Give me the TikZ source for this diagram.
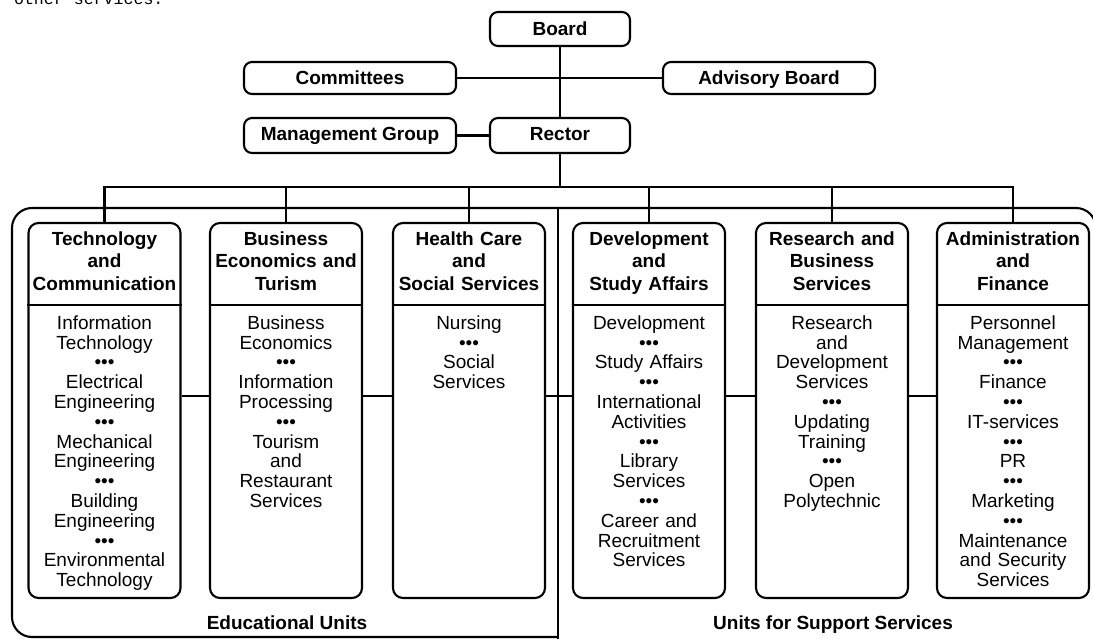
\documentclass[tikz,border=0pt]{standalone}
\usepackage{fontspec}
\setmainfont{Liberation Sans}
\newfontfamily\prevfont{Liberation Mono}
\newcommand{\bul}{•••}
\tikzset{
  box/.style={draw, rounded corners=8pt, inner sep=0pt, font=\bfseries\fontsize{19}{22}\selectfont},
  unitbox/.style={draw, rounded corners=10pt, minimum width=152pt, minimum height=375pt, inner sep=0pt},
  unittitle/.style={anchor=north, inner sep=0pt, align=center, text width=152pt, font=\bfseries\fontsize{19}{22.5}\selectfont},
  unitbody/.style={anchor=north, inner sep=0pt, align=center, text width=152pt, font=\fontsize{19}{19.8}\selectfont},
  grouplabel/.style={anchor=base, inner sep=0pt, font=\bfseries\fontsize{19}{22}\selectfont}
}
\begin{document}
\begin{tikzpicture}[x=1pt, y=-1pt, line width=2.1pt]
\useasboundingbox (0,0) rectangle (1093,639);
\node[anchor=base west, inner sep=0pt, font=\prevfont\fontsize{16.6}{18}\selectfont] (prev) at (13,4.5) {other services.};
% top of the chart
\node[box, minimum width=140pt, minimum height=34pt] (board) at (560,29) {Board};
\node[box, minimum width=212pt, minimum height=32pt, text depth=0pt] (committees) at (350,78) {Committees};
\node[box, minimum width=212pt, minimum height=32pt, text depth=0pt] (advisory) at (769,78) {Advisory Board};
\node[box, minimum width=212pt, minimum height=35pt] (mgmt) at (350,135.5) {Management Group};
\node[box, minimum width=140pt, minimum height=35pt, text depth=4pt] (rector) at (560,135.5) {Rector};
\draw (board) -- (rector);
\draw (committees) -- (advisory);
\draw (mgmt) -- (rector);
\coordinate (bus) at (560,187);
\coordinate (divy) at (0,305);
\coordinate (linky) at (0,396);
\draw (rector) -- (bus);
% frames
\draw[rounded corners=20pt] (558,637) -- (12,637) -- (12,208) -- (1096,208) -- (1096,660);
\draw (558,208) -- (558,660);
\node[grouplabel] (edu) at (287,629) {Educational Units};
\node[grouplabel] (sup) at (833,629) {Units for Support Services};
% units
\node[unitbox] (tech) at (104.5,410.5) {};
\node[unitbox] (biz) at (286,410.5) {};
\node[unitbox] (health) at (469,410.5) {};
\node[unitbox] (dev) at (649,410.5) {};
\node[unitbox] (res) at (832,410.5) {};
\node[unitbox] (adm) at (1013,410.5) {};
\node[unittitle] (techT) at (104.5,230.4) {Technology\\and\\Communication};
\node[unittitle] (bizT) at (286,230.4) {Business\\Economics and\\Turism};
\node[unittitle] (healthT) at (469,230.4) {Health Care\\and\\Social Services};
\node[unittitle] (devT) at (649,230.4) {Development\\and\\Study Affairs};
\node[unittitle] (resT) at (832,230.4) {Research and\\Business\\Services};
\node[unittitle] (admT) at (1013,230.4) {Administration\\and\\Finance};
\draw (tech.west |- divy) -- (tech.east |- divy);
\draw (biz.west |- divy) -- (biz.east |- divy);
\draw (health.west |- divy) -- (health.east |- divy);
\draw (dev.west |- divy) -- (dev.east |- divy);
\draw (res.west |- divy) -- (res.east |- divy);
\draw (adm.west |- divy) -- (adm.east |- divy);
\node[unitbody] (techB) at (104.5,314.5) {Information\\Technology\\\bul\\Electrical\\Engineering\\\bul\\Mechanical\\Engineering\\\bul\\Building\\Engineering\\\bul\\Environmental\\Technology};
\node[unitbody] (bizB) at (286,314.5) {Business\\Economics\\\bul\\Information\\Processing\\\bul\\Tourism\\and\\Restaurant\\Services};
\node[unitbody] (healthB) at (469,314.5) {Nursing\\\bul\\Social\\Services};
\node[unitbody] (devB) at (649,314.5) {Development\\\bul\\Study Affairs\\\bul\\International\\Activities\\\bul\\Library\\Services\\\bul\\Career and\\Recruitment\\Services};
\node[unitbody] (resB) at (832,314.5) {Research\\and\\Development\\Services\\\bul\\Updating\\Training\\\bul\\Open\\Polytechnic};
\node[unitbody] (admB) at (1013,314.5) {Personnel\\Management\\\bul\\Finance\\\bul\\IT-services\\\bul\\PR\\\bul\\Marketing\\\bul\\Maintenance\\and Security\\Services};
% connectors
\draw (tech.north) |- (bus);
\draw (biz.north) |- (bus);
\draw (health.north) |- (bus);
\draw (dev.north) |- (bus);
\draw (res.north) |- (bus);
\draw (adm.north) |- (bus);
\draw (tech.east |- linky) -- (biz.west |- linky);
\draw (biz.east |- linky) -- (health.west |- linky);
\draw (health.east |- linky) -- (dev.west |- linky);
\draw (dev.east |- linky) -- (res.west |- linky);
\draw (res.east |- linky) -- (adm.west |- linky);
\end{tikzpicture}
\end{document}
